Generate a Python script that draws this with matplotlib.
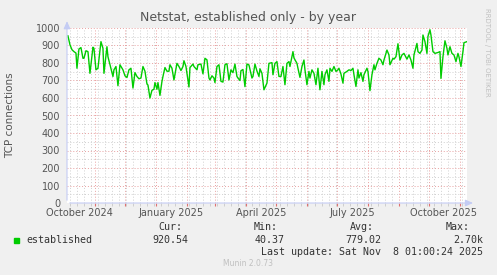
import matplotlib
matplotlib.use("Agg")
import matplotlib.pyplot as plt
import matplotlib.dates as mdates
import numpy as np
import datetime as dt

# days counted from 2024-10-05, daily averages of established connections
start = dt.datetime(2024, 10, 5)
days = [0, 2, 4, 6, 8, 9, 11, 13, 15, 16, 18, 20, 22, 25, 26, 28, 30, 33, 35, 36,
        39, 40, 42, 45, 46, 48, 50, 52, 55, 57, 59, 61, 63, 65, 67, 69, 71, 73, 75, 77,
        79, 80, 82, 84, 86, 87, 89, 90, 92, 94, 95, 97, 99, 101, 102, 104, 106, 109, 111, 113,
        115, 116, 118, 121, 122, 125, 126, 129, 130, 133, 135, 137, 139, 141, 142, 144, 146, 147, 149, 151,
        153, 155, 157, 159, 161, 163, 165, 167, 169, 170, 172, 173, 175, 177, 179, 181, 184, 185, 187, 189,
        191, 192, 194, 196, 199, 201, 204, 205, 207, 209, 211, 213, 215, 217, 219, 221, 222, 225, 226, 229,
        230, 232, 234, 236, 237, 239, 241, 242, 244, 246, 248, 250, 252, 254, 256, 257, 259, 261, 262, 264,
        266, 268, 270, 271, 273, 275, 276, 279, 281, 283, 285, 286, 288, 290, 291, 293, 295, 296, 299, 300,
        302, 304, 306, 307, 309, 311, 313, 315, 316, 319, 321, 322, 325, 326, 328, 330, 332, 334, 336, 339,
        341, 343, 345, 346, 349, 350, 352, 354, 355, 357, 359, 360, 362, 363, 365, 367, 370, 372, 373, 375,
        377, 379, 380, 382, 384, 386, 388, 390, 391, 393, 395, 396, 399]
established = [955, 904, 876, 865, 857, 770, 880, 888, 827, 827, 870, 865, 741, 890, 884, 761, 770, 922, 884, 741,
               893, 836, 790, 723, 761, 780, 670, 790, 761, 727, 717, 761, 770, 657, 745, 723, 710, 714, 780, 753,
               680, 674, 600, 644, 650, 688, 650, 688, 615, 695, 723, 774, 753, 753, 790, 770, 703, 798, 780, 757,
               780, 813, 780, 663, 774, 794, 780, 761, 790, 794, 738, 827, 818, 714, 703, 727, 714, 688, 780, 790,
               695, 691, 790, 796, 703, 761, 745, 794, 723, 714, 700, 756, 763, 665, 794, 789, 714, 723, 794, 754,
               723, 767, 741, 647, 685, 798, 802, 733, 798, 808, 723, 723, 780, 676, 798, 808, 780, 865, 829, 798,
               770, 718, 780, 817, 761, 676, 752, 714, 761, 741, 676, 770, 647, 752, 676, 733, 761, 695, 770, 752,
               780, 752, 761, 770, 737, 685, 741, 752, 761, 757, 770, 733, 666, 761, 714, 745, 695, 733, 770, 752,
               642, 733, 790, 761, 798, 827, 817, 790, 817, 874, 846, 790, 827, 822, 836, 910, 817, 846, 855, 822,
               846, 817, 770, 846, 912, 865, 855, 874, 960, 922, 855, 952, 990, 960, 865, 855, 860, 865, 712, 836,
               927, 884, 846, 893, 855, 846, 808, 855, 836, 780, 865, 916, 922]

x_labels = ["October 2024", "January 2025", "April 2025", "July 2025", "October 2025"]
x_label_dates = [dt.datetime(2024, 10, 16), dt.datetime(2025, 1, 16), dt.datetime(2025, 4, 16),
                 dt.datetime(2025, 7, 16), dt.datetime(2025, 10, 16)]
stats_head = ["Cur:", "Min:", "Avg:", "Max:"]
stats_vals = ["920.54", "40.37", "779.02", "2.70k"]

dates = [start + dt.timedelta(days=d) for d in days]

bg = "#F0F0F0"
txt = "#555555"
fig = plt.figure(figsize=(4.97, 2.75), dpi=100, facecolor=bg)
ax = fig.add_axes([67 / 497, 72 / 275, 400 / 497, 175 / 275])
ax.set_facecolor("white")

ax.plot(dates, established, color="#00CC00", lw=1.0, zorder=3)

ax.set_xlim(dt.datetime(2024, 10, 4, 1), dt.datetime(2025, 11, 8, 1))
ax.set_ylim(0, 1000)

# grids
ax.xaxis.set_major_locator(mdates.MonthLocator(bymonthday=1))
ax.xaxis.set_minor_locator(mdates.WeekdayLocator(byweekday=mdates.MO))
ax.xaxis.set_major_formatter(plt.NullFormatter())
ax.set_yticks(np.arange(0, 1001, 100))
ax.set_yticks(np.arange(50, 1000, 100), minor=True)
ax.grid(which="major", color="#E8A0A0", lw=0.7, ls=(0, (1, 2)))
ax.grid(which="minor", color="#D0D0D0", lw=0.7, ls=(0, (1, 2)))
ax.tick_params(axis="x", which="major", length=2, color="#E07070", labelbottom=False)
ax.tick_params(axis="x", which="minor", length=2, color="#C8C8C8")
ax.tick_params(axis="y", which="both", length=0, labelsize=7, labelcolor=txt, pad=5)
for s in ax.spines.values():
    s.set_visible(False)

# axis arrows
axc = "#C4CCF4"
ax.annotate("", xy=(1.022, 0), xytext=(0, 0), xycoords="axes fraction",
            arrowprops=dict(arrowstyle="-|>,head_width=0.2,head_length=0.45", color=axc, lw=0.8), zorder=5)
ax.annotate("", xy=(0, 1.055), xytext=(0, 0), xycoords="axes fraction",
            arrowprops=dict(arrowstyle="-|>,head_width=0.2,head_length=0.45", color=axc, lw=0.8), zorder=5)

for lab, d in zip(x_labels, x_label_dates):
    ax.text(d, -0.057, lab, transform=ax.get_xaxis_transform(), ha="center", va="center",
            fontsize=7, color=txt)

ax.set_ylabel("TCP connections", fontsize=7.5, color=txt)
ax.yaxis.set_label_coords(-0.13, 0.5)

fig.text(248.5 / 497, 1 - 17 / 275, "Netstat, established only - by year", ha="center", va="center",
         fontsize=9, color=txt)
fig.text(487 / 497, 1 - 52 / 275, "RRDTOOL / TOBI OETIKER", rotation=270, ha="center", va="center",
         fontsize=5, color="#C0C0C0")

# legend area
mono = "DejaVu Sans Mono"
fig.patches.append(plt.Rectangle((14 / 497, 1 - 243 / 275), 5 / 497, 5 / 275, transform=fig.transFigure,
                                 color="#00CC00", figure=fig))
fig.text(26 / 497, 1 - 240 / 275, "established", family=mono, fontsize=7.2, color="#333333",
         va="center", ha="left")
head_x = [182, 278, 374, 470]
val_x = [188, 285, 381, 483]
for h, hx, v, vx in zip(stats_head, head_x, stats_vals, val_x):
    fig.text(hx / 497, 1 - 227.5 / 275, h, family=mono, fontsize=7.2, color="#333333", ha="right", va="center")
    fig.text(vx / 497, 1 - 240 / 275, v, family=mono, fontsize=7.2, color="#333333", ha="right", va="center")
fig.text(483 / 497, 1 - 252 / 275, "Last update: Sat Nov  8 01:00:24 2025", family=mono, fontsize=7.2,
         color="#333333", ha="right", va="center")
fig.text(248 / 497, 1 - 264 / 275, "Munin 2.0.73", fontsize=5.5, color="#C0C0C0", ha="center", va="center")

fig.savefig("out.png", dpi=100, facecolor=bg)
